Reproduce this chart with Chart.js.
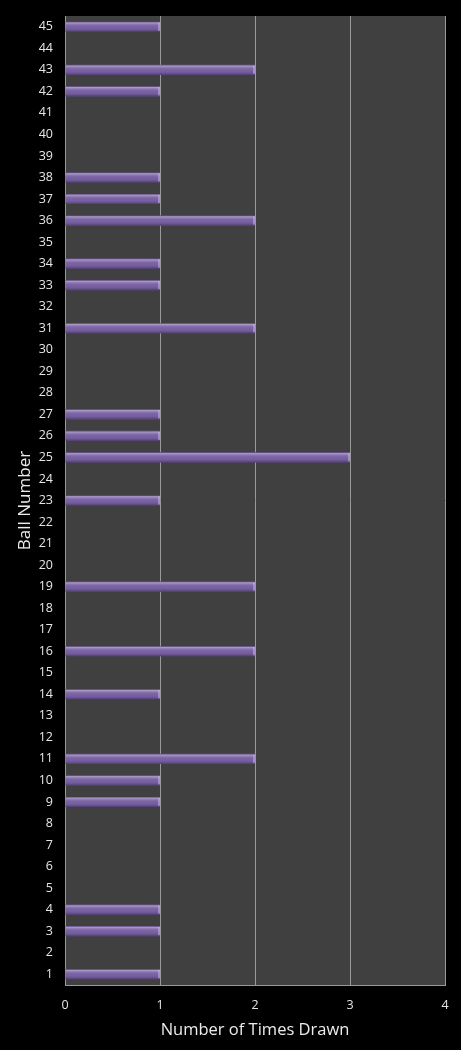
<!DOCTYPE html>
<html>
<head>
<meta charset="utf-8">
<script src="https://cdn.jsdelivr.net/npm/chart.js@4/dist/chart.umd.min.js"></script>
<style>
    html, body { margin: 0; padding: 0; background: #000; }
    #wrap { width: 461px; height: 1050px; position: relative; }
</style>
</head>
<body>
<div id="wrap"><canvas id="ballChart"></canvas></div>
<script>
// Ball numbers, bottom to top
const balls = [];
for (let i = 1; i <= 45; i++) balls.push(String(i));

// Times drawn for balls 1..45
const timesDrawn = [
    1, 0, 1, 1, 0, 0, 0, 0, 1, 1,   // 1-10
    2, 0, 0, 1, 0, 2, 0, 0, 2, 0,   // 11-20
    0, 0, 1, 0, 3, 1, 1, 0, 0, 0,   // 21-30
    2, 0, 1, 1, 0, 2, 1, 1, 0, 0,   // 31-40
    0, 1, 2, 0, 1                   // 41-45
];

const xTicks = [0, 1, 2, 3, 4];

// plot area background
const plotBg = {
    id: 'plotBg',
    beforeDraw(chart) {
        const { ctx, chartArea: a } = chart;
        ctx.save();
        ctx.fillStyle = '#404040';
        ctx.fillRect(a.left, a.top, a.right - a.left, a.bottom - a.top);
        ctx.restore();
    }
};

// glossy shading on top of the bars, using the bar elements' own geometry
const barShine = {
    id: 'barShine',
    afterDatasetsDraw(chart) {
        const ctx = chart.ctx;
        const meta = chart.getDatasetMeta(0);
        ctx.save();
        meta.data.forEach(bar => {
            const p = bar.getProps(['x', 'y', 'base', 'height'], true);
            if (Math.abs(p.x - p.base) < 1) return;
            const top = p.y - p.height / 2;
            const g = ctx.createLinearGradient(0, top, 0, top + p.height);
            g.addColorStop(0, 'rgba(60,45,90,0.5)');
            g.addColorStop(0.12, 'rgba(210,200,235,0.55)');
            g.addColorStop(0.3, 'rgba(180,165,215,0.25)');
            g.addColorStop(0.55, 'rgba(120,96,165,0)');
            g.addColorStop(1, 'rgba(40,28,70,0.55)');
            ctx.fillStyle = g;
            ctx.fillRect(p.base, top, p.x - p.base, p.height);
            // light end cap
            ctx.fillStyle = 'rgba(200,190,225,0.5)';
            ctx.fillRect(p.x - 2, top + 1, 2, p.height - 2);
        });
        ctx.restore();
    }
};

const ctx = document.getElementById('ballChart').getContext('2d');
new Chart(ctx, {
    type: 'bar',
    data: {
        labels: balls,
        datasets: [{
            data: timesDrawn,
            backgroundColor: '#7a62a2',
            borderWidth: 0,
            categoryPercentage: 1,
            barPercentage: 0.47
        }]
    },
    options: {
        indexAxis: 'y',
        responsive: true,
        maintainAspectRatio: false,
        animation: false,
        layout: { padding: { top: 16, right: 16, left: 0, bottom: 0 } },
        plugins: {
            legend: { display: false },
            tooltip: { enabled: false }
        },
        scales: {
            x: {
                min: 0,
                max: 4,
                afterBuildTicks: function(scale) {
                    scale.ticks = xTicks.map(v => ({ value: v }));
                },
                afterFit: function(scale) {
                    scale.height = 65;
                    scale.paddingLeft = 0;
                    scale.paddingRight = 0;
                },
                ticks: {
                    color: '#e6e6e6',
                    font: { family: 'Open Sans', size: 12.5 },
                    padding: 13
                },
                grid: {
                    color: '#9a9a9a',
                    lineWidth: 1,
                    drawTicks: false
                },
                border: { color: '#9a9a9a' },
                title: {
                    display: true,
                    text: 'Number of Times Drawn',
                    color: '#ececec',
                    font: { family: 'Open Sans', size: 16.5 },
                    padding: { top: 0, bottom: 10 }
                }
            },
            y: {
                reverse: true,
                afterFit: function(scale) {
                    scale.width = 65;
                    scale.paddingTop = 0;
                    scale.paddingBottom = 0;
                },
                ticks: {
                    color: '#e6e6e6',
                    font: { family: 'Open Sans', size: 12.5 },
                    padding: 12,
                    autoSkip: false
                },
                grid: { display: false, drawTicks: false },
                border: { color: '#9a9a9a' },
                title: {
                    display: true,
                    text: 'Ball Number',
                    color: '#ececec',
                    font: { family: 'Open Sans', size: 17 },
                    padding: { top: 15, bottom: 0 }
                }
            }
        }
    },
    plugins: [plotBg, barShine]
});
</script>
</body>
</html>
